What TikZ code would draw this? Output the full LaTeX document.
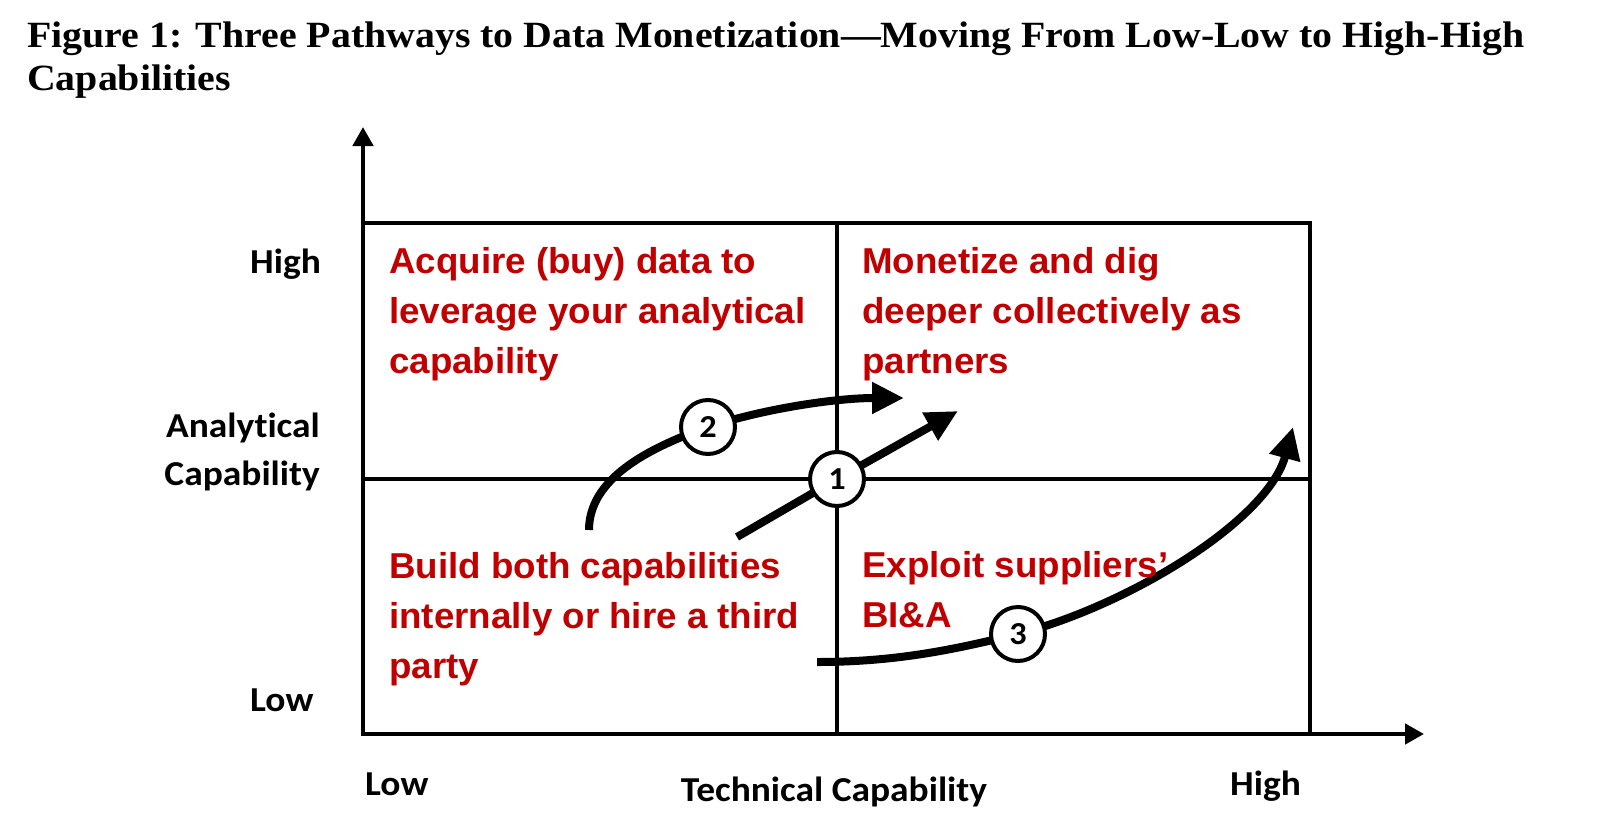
\documentclass[tikz,border=0pt]{standalone}
\usepackage{fontspec}
\usepackage{graphicx}
\usetikzlibrary{arrows.meta}

\newfontfamily\titlefont{Liberation Serif}
\newfontfamily\arialfont{Liberation Sans}[FakeStretch=1.02]
\newfontfamily\calibrifont{Carlito}[FakeStretch=1.07,Ligatures=NoCommon]
\definecolor{figred}{HTML}{C00000}

\pgfdeclarelayer{gridlayer}
\pgfdeclarelayer{pathlayer}
\pgfsetlayers{gridlayer,pathlayer,main}

\newlength\titlewidth

\begin{document}
% title is condensed to a fixed line width
\settowidth{\titlewidth}{\titlefont\bfseries\fontsize{37pt}{43pt}\selectfont Figure 1: Three Pathways to Data Monetization—Moving From Low-Low to High-High}%
\pgfmathsetmacro{\titlescale}{1497/\titlewidth}%
\begin{tikzpicture}[x=1pt,y=-1pt,
  gridline/.style={line width=4.2pt},
  axisline/.style={line width=4.5pt,-{Triangle[length=19pt,width=20pt]}},
  patharrow/.style={line width=8pt,-{Triangle[length=32pt,width=30pt]}},
  stage/.style={circle,draw,line width=4pt,fill=white,minimum size=54pt,inner sep=0pt,
    font=\calibrifont\bfseries\fontsize{32pt}{32pt}\selectfont},
  axislabel/.style={inner sep=0pt,font=\calibrifont\bfseries\fontsize{35pt}{48pt}\selectfont},
  quadtext/.style={inner sep=0pt,anchor=base west,text=figred,
    font=\arialfont\bfseries\fontsize{36pt}{50pt}\selectfont},
  titletext/.style={inner sep=0pt,anchor=base west,
    font=\titlefont\bfseries\fontsize{37pt}{43pt}\selectfont}]

\useasboundingbox (0,0) rectangle (1614,838);

\node[titletext] (title1) at (27,47) {\scalebox{\titlescale}[1]{Figure 1: Three Pathways to Data Monetization—Moving From Low-Low to High-High}};
\node[titletext] (title2) at (27,90) {\scalebox{\titlescale}[1]{Capabilities}};

% frame of the four quadrants
\coordinate (nw) at (363,223);
\coordinate (se) at (1310,734);
\coordinate (ntop) at (837,223);
\coordinate (nbot) at (837,734);
\coordinate (wmid) at (363,479);
\coordinate (emid) at (1310,479);
\coordinate (ytip) at (363,127);
\coordinate (xtip) at (1424,734);
\coordinate (xstart) at (361,734);
\coordinate (ystart) at (363,736);

\begin{pgfonlayer}{gridlayer}
  \draw[gridline] (nw) rectangle (se);
  \draw[gridline] (ntop) -- (nbot);
  \draw[gridline] (wmid) -- (emid);
  \draw[axisline] (ystart) -- (ytip);
  \draw[axisline] (xstart) -- (xtip);
\end{pgfonlayer}

% axis labels
\node[axislabel,anchor=base west] (yhigh) at (250,273) {High};
\node[axislabel,anchor=base east] (ylabel) at (320,437) {\parbox[t]{220pt}{\raggedleft Analytical\\Capability}};
\node[axislabel,anchor=base west] (ylow) at (250,711) {Low};
\node[axislabel,anchor=base west] (xlow) at (365,795) {Low};
\node[axislabel,anchor=base] (xlabel) at (834,801) {Technical Capability};
\node[axislabel,anchor=base west] (xhigh) at (1230,795) {High};

% quadrant texts
\node[quadtext] (q1) at (389,273) {\parbox[t]{460pt}{\raggedright Acquire (buy) data to\\leverage your analytical\\capability}};
\node[quadtext] (q2) at (862,273) {\parbox[t]{440pt}{\raggedright Monetize and dig\\deeper collectively as\\partners}};
\node[quadtext] (q3) at (389,578) {\parbox[t]{440pt}{\raggedright Build both capabilities\\internally or hire a third\\party}};
\node[quadtext] (q4) at (862,577) {\parbox[t]{440pt}{\raggedright Exploit suppliers’\\BI\&A}};

% pathway markers
\node[stage] (c1) at (837,479) {1};
\node[stage] (c2) at (708,427) {2};
\node[stage] (c3) at (1018,634) {3};

% pathways
\coordinate (s1) at (737,537);
\coordinate (e1) at (958,411);
\coordinate (s2) at (589,530);
\coordinate (e2) at (904,398);
\coordinate (s3) at (817,662);
\coordinate (e3) at (1293,427);

\begin{pgfonlayer}{pathlayer}
  \draw[patharrow] (s1) -- (c1.center) -- (e1);
  \draw[patharrow] (s2) .. controls (589,480) and (645,449) .. (c2.center)
                        .. controls (770,407) and (840,398) .. (e2);
  \draw[patharrow] (s3) .. controls (900,662) and (960,648) .. (c3.center)
                        .. controls (1130,605) and (1268,520) .. (e3);
\end{pgfonlayer}

\end{tikzpicture}
\end{document}
